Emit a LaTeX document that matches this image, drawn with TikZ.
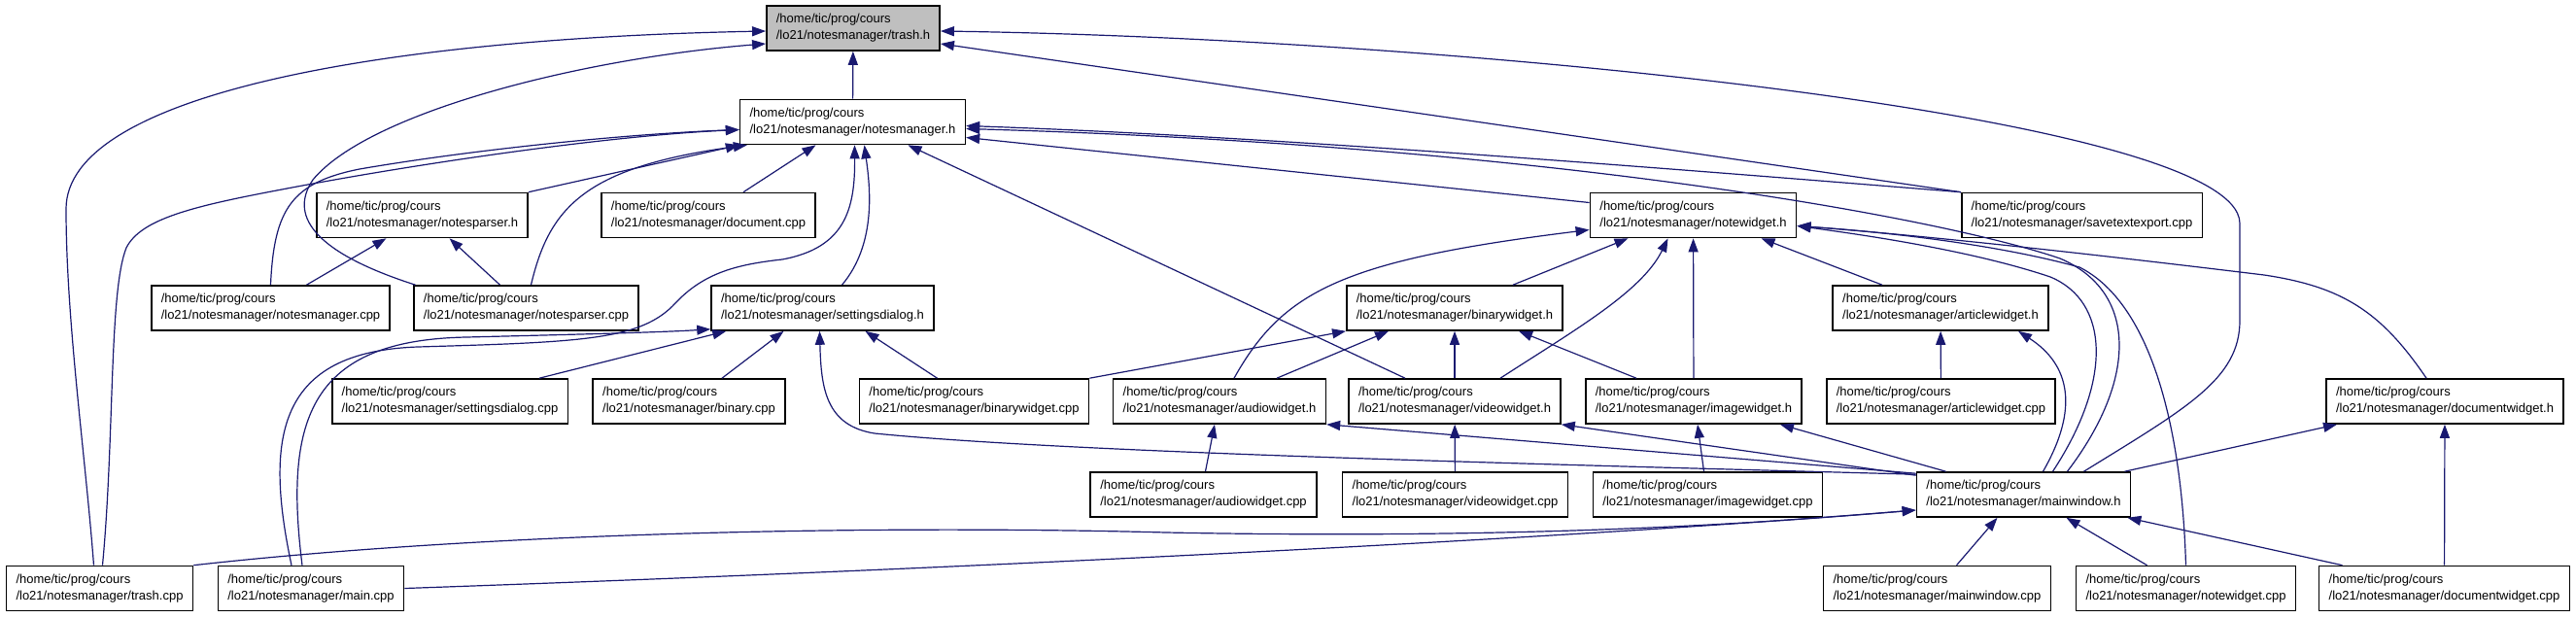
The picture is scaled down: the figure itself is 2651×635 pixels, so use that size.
\documentclass[tikz,border=0pt]{standalone}
\usepackage{fontspec}
\setmainfont{Liberation Sans}
\usetikzlibrary{arrows.meta}
\definecolor{edgeblue}{HTML}{191970}
\definecolor{curgray}{HTML}{BFBFBF}
\tikzset{
  file/.style={draw=black,line width=1.6pt,fill=white,rectangle,align=left,inner xsep=10pt,minimum height=46pt,font=\fontsize{13}{17}\selectfont},
  cur/.style={file,fill=curgray},
  inc/.style={-{Triangle[length=14pt,width=10pt]},draw=edgeblue,line width=1.2pt}
}
\newcommand{\fpath}[1]{/home/tic/prog/cours\\/lo21/notesmanager/#1}

\begin{document}
\begin{tikzpicture}[x=1pt,y=-1pt]
\fill[white] (0,0) rectangle (2651,635);
\useasboundingbox (0,0) rectangle (2651,635);

% files
\node[cur]  (trashh) at (878,29) {\fpath{trash.h}};
\node[file] (notesmanagerh) at (877.5,125.5) {\fpath{notesmanager.h}};
\node[file] (notesparserh) at (434.5,221.5) {\fpath{notesparser.h}};
\node[file] (documentcpp) at (729,221.5) {\fpath{document.cpp}};
\node[file] (notewidgeth) at (1742.5,221.5) {\fpath{notewidget.h}};
\node[file] (savetextexportcpp) at (2142.5,221.5) {\fpath{savetextexport.cpp}};
\node[file] (notesmanagercpp) at (278.5,317) {\fpath{notesmanager.cpp}};
\node[file] (notesparsercpp) at (541.5,317) {\fpath{notesparser.cpp}};
\node[file] (settingsdialogh) at (846.5,317) {\fpath{settingsdialog.h}};
\node[file] (binarywidgeth) at (1497,317) {\fpath{binarywidget.h}};
\node[file] (articlewidgeth) at (1997,317) {\fpath{articlewidget.h}};
\node[file] (settingsdialogcpp) at (463,413) {\fpath{settingsdialog.cpp}};
\node[file] (binarycpp) at (709,413) {\fpath{binary.cpp}};
\node[file] (binarywidgetcpp) at (1002.5,413) {\fpath{binarywidget.cpp}};
\node[file] (audiowidgeth) at (1255,413) {\fpath{audiowidget.h}};
\node[file] (videowidgeth) at (1497,413) {\fpath{videowidget.h}};
\node[file] (imagewidgeth) at (1743,413) {\fpath{imagewidget.h}};
\node[file] (articlewidgetcpp) at (1997.5,413) {\fpath{articlewidget.cpp}};
\node[file] (documentwidgeth) at (2516,413) {\fpath{documentwidget.h}};
\node[file] (audiowidgetcpp) at (1238.5,509) {\fpath{audiowidget.cpp}};
\node[file] (videowidgetcpp) at (1497.5,509) {\fpath{videowidget.cpp}};
\node[file] (imagewidgetcpp) at (1757.5,509) {\fpath{imagewidget.cpp}};
\node[file] (mainwindowh) at (2082.5,509) {\fpath{mainwindow.h}};
\node[file] (trashcpp) at (102.5,605.5) {\fpath{trash.cpp}};
\node[file] (maincpp) at (320,605.5) {\fpath{main.cpp}};
\node[file] (mainwindowcpp) at (1993.5,605.5) {\fpath{mainwindow.cpp}};
\node[file] (notewidgetcpp) at (2249.5,605.5) {\fpath{notewidget.cpp}};
\node[file] (documentwidgetcpp) at (2515.5,605.5) {\fpath{documentwidget.cpp}};

% into trash.h
\draw[inc] (notesmanagerh) -- (trashh);
\draw[inc] ([xshift=-6]trashcpp.north) .. controls (88,470) and (68,330) .. (68,215) .. controls (68,100) and (380,40) .. ([yshift=-3]trashh.west);
\draw[inc] ([xshift=-114]notesparsercpp.north) .. controls (330,262) and (295,225) .. (322,185) .. controls (380,115) and (600,60) .. ([yshift=-16]trashh.west);
\draw[inc] (savetextexportcpp.north west) -- ([yshift=-16]trashh.east);
\draw[inc] ([xshift=62]mainwindowh.north) .. controls (2250,420) and (2305,390) .. (2305,330) -- (2305,230) .. controls (2305,120) and (1500,40) .. ([yshift=-3]trashh.east);

% into notesmanager.h
\draw[inc] ([xshift=3]trashcpp.north) .. controls (118,450) and (112,300) .. (130,255) .. controls (145,225) and (200,212) .. (290,195) .. controls (420,170) and (620,140) .. ([yshift=-8]notesmanagerh.west);
\draw[inc] (notesmanagercpp.north) .. controls (282,215) and (300,188) .. (370,174) .. controls (480,155) and (640,138) .. ([yshift=-8]notesmanagerh.west);
\draw[inc] (notesparserh.north east) -- (notesmanagerh.south west);
\draw[inc] ([xshift=5]notesparsercpp.north) .. controls (565,215) and (600,172) .. ([xshift=8]notesmanagerh.south west);
\draw[inc] ([xshift=36]documentcpp.north) -- ([xshift=-38]notesmanagerh.south);
\draw[inc] ([xshift=-20]maincpp.north) .. controls (272,450) and (285,362) .. (430,357) .. controls (600,352) and (660,350) .. (695,312) .. controls (725,280) and (760,272) .. (805,267) .. controls (870,255) and (880,215) .. ([xshift=2]notesmanagerh.south);
\draw[inc] ([xshift=20]settingsdialogh.north) .. controls (903,250) and (895,190) .. ([xshift=12]notesmanagerh.south);
\draw[inc] ([xshift=-51]videowidgeth.north) -- ([xshift=57]notesmanagerh.south);
\draw[inc] ([yshift=13]notewidgeth.west) -- ([yshift=-16]notesmanagerh.east);
\draw[inc] (savetextexportcpp.north west) .. controls (1700,172) and (1300,140) .. ([yshift=-4]notesmanagerh.east);
\draw[inc] ([xshift=45]mainwindowh.north) .. controls (2200,390) and (2200,300) .. (2120,266) .. controls (2000,225) and (1600,150) .. ([yshift=-7]notesmanagerh.east);

% into notesparser.h
\draw[inc] ([xshift=37]notesmanagercpp.north) -- ([xshift=-37]notesparserh.south);
\draw[inc] ([xshift=-27]notesparsercpp.north) -- ([xshift=28]notesparserh.south);

% into settingsdialog.h
\draw[inc] ([xshift=-9]maincpp.north) .. controls (292,430) and (320,350) .. (480,347) .. controls (600,344) and (680,342) .. ([yshift=2]settingsdialogh.south west);
\draw[inc] ([xshift=92]settingsdialogcpp.north) -- ([xshift=16]settingsdialogh.south west);
\draw[inc] ([xshift=34]binarycpp.north) -- ([xshift=-40]settingsdialogh.south);
\draw[inc] ([xshift=-38]binarywidgetcpp.north) -- ([xshift=44]settingsdialogh.south);
\draw[inc] ([yshift=-3]mainwindowh.north west) .. controls (1600,478) and (1100,466) .. (900,446) .. controls (850,438) and (845,400) .. ([xshift=-3]settingsdialogh.south);

% into notewidget.h
\draw[inc] ([xshift=60]binarywidgeth.north) -- ([xshift=-67]notewidgeth.south);
\draw[inc] ([xshift=15]audiowidgeth.north) .. controls (1320,300) and (1380,268) .. ([yshift=-15]notewidgeth.west);
\draw[inc] ([xshift=47]videowidgeth.north) .. controls (1620,340) and (1690,300) .. ([xshift=-26]notewidgeth.south);
\draw[inc] (imagewidgeth) -- (notewidgeth);
\draw[inc] ([xshift=-60]articlewidgeth.north) -- ([xshift=70]notewidgeth.south);
\draw[inc] ([xshift=-19]documentwidgeth.north) .. controls (2450,320) and (2410,295) .. (2330,283) .. controls (2100,255) and (1950,240) .. ([yshift=-11]notewidgeth.east);
\draw[inc] ([xshift=30]mainwindowh.north) .. controls (2175,390) and (2170,310) .. (2110,285) .. controls (2030,258) and (1920,242) .. ([yshift=-11]notewidgeth.east);
\draw[inc] (notewidgetcpp.north) .. controls (2245,430) and (2210,310) .. (2140,275) .. controls (2050,250) and (1930,238) .. ([yshift=-11]notewidgeth.east);

% into binarywidget.h
\draw[inc] (binarywidgetcpp.north east) -- (binarywidgeth.south west);
\draw[inc] ([xshift=59]audiowidgeth.north) -- ([xshift=-68]binarywidgeth.south);
\draw[inc] (videowidgeth) -- (binarywidgeth);
\draw[inc] ([xshift=-59]imagewidgeth.north) -- ([xshift=66]binarywidgeth.south);

% widgets
\draw[inc] ([xshift=2]audiowidgetcpp.north) -- ([xshift=-5]audiowidgeth.south);
\draw[inc] (videowidgetcpp) -- (videowidgeth);
\draw[inc] ([xshift=-4]imagewidgetcpp.north) -- ([xshift=4]imagewidgeth.south);
\draw[inc] (articlewidgetcpp) -- (articlewidgeth);
\draw[inc] (documentwidgetcpp) -- (documentwidgeth);
\draw[inc] ([yshift=-2]mainwindowh.north west) -- (audiowidgeth.south east);
\draw[inc] ([yshift=-4]mainwindowh.north west) -- (videowidgeth.south east);
\draw[inc] ([xshift=-80]mainwindowh.north) -- ([xshift=-23]imagewidgeth.south east);
\draw[inc] ([xshift=20]mainwindowh.north) .. controls (2140,420) and (2130,375) .. ([xshift=80]articlewidgeth.south);
\draw[inc] ([xshift=104]mainwindowh.north) -- ([xshift=-111]documentwidgeth.south);

% into mainwindow.h
\draw[inc] ([xshift=20]mainwindowcpp.north) -- ([xshift=-27]mainwindowh.south);
\draw[inc] ([xshift=-40]notewidgetcpp.north) -- ([xshift=44]mainwindowh.south);
\draw[inc] ([xshift=-105]documentwidgetcpp.north) -- ([xshift=-4]mainwindowh.south east);
\draw[inc] (trashcpp.north east) .. controls (500,548) and (900,540) .. (1200,548) .. controls (1600,556) and (1850,535) .. ([yshift=-16]mainwindowh.west);
\draw[inc] (maincpp.east) .. controls (1000,585) and (1600,555) .. ([yshift=-16]mainwindowh.west);
\end{tikzpicture}
\end{document}
